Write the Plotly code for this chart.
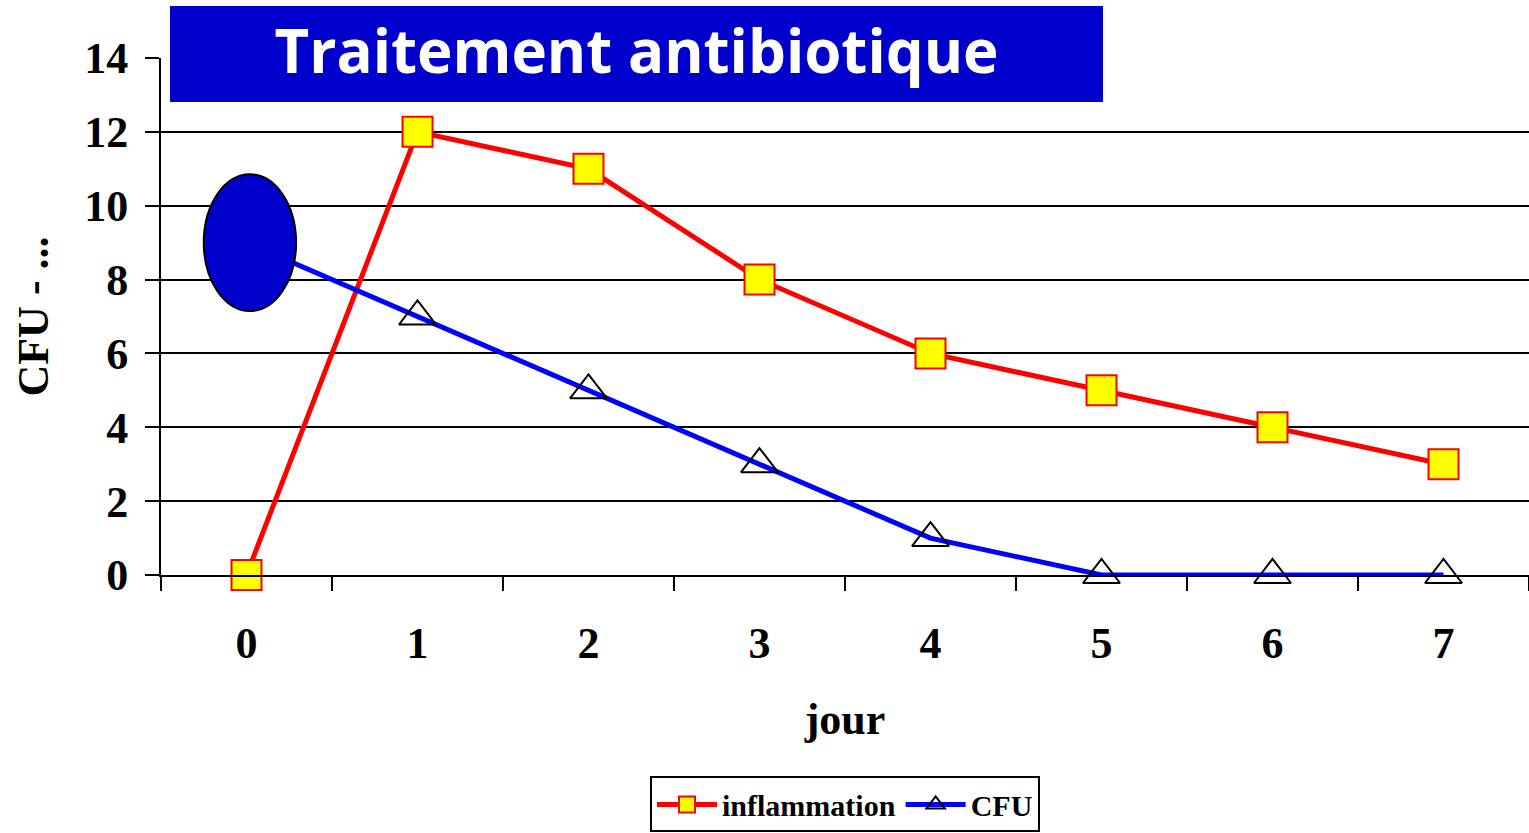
import plotly.graph_objects as go

# data
jours         = [0, 1, 2, 3, 4, 5, 6, 7]
inflammation  = [0, 12, 11, 8, 6, 5, 4, 3]
cfu           = [9, 7, 5, 3, 1, 0, 0, 0]
y_ticks       = [0, 2, 4, 6, 8, 10, 12, 14]
titre         = "Traitement antibiotique"

serif = dict(family = "Liberation Serif", color = "black", weight = "bold")

fig = go.Figure()

fig.add_trace(go.Scatter(x          = [str(j) for j in jours],
                         y          = inflammation,
                         name       = "inflammation",
                         mode       = "lines+markers",
                         cliponaxis = False,
                         line       = dict(color = "#ff0000", width = 5),
                         marker     = dict(symbol = "square",
                                           size   = 30,
                                           color  = "#ffff00",
                                           line   = dict(color = "#ff0000", width = 2))))

fig.add_trace(go.Scatter(x          = [str(j) for j in jours],
                         y          = cfu,
                         name       = "CFU",
                         mode       = "lines+markers",
                         cliponaxis = False,
                         line       = dict(color = "#0000ff", width = 5),
                         marker     = dict(symbol = "triangle-up-open",
                                           size   = 32,
                                           color  = "black",
                                           line   = dict(color = "black", width = 2))))

# blue ellipse hiding the first CFU point
fig.add_shape(type      = "circle",
              xref      = "x", yref = "y",
              x0        = -0.25, x1 = 0.29,
              y0        = cfu[0] - 1.85, y1 = cfu[0] + 1.85,
              fillcolor = "#0000cc",
              line      = dict(color = "black", width = 2),
              layer     = "above")

# title box, drawn under the gridlines
fig.add_shape(type      = "rect",
              xref      = "paper", yref = "paper",
              x0        = (170 - 161) / 1368, x1 = (1103 - 161) / 1368,
              y0        = (575 - 102) / 517, y1 = (575 - 6) / 517,
              fillcolor = "#0000cc",
              line      = dict(width = 0),
              layer     = "below",
              label     = dict(text = titre,
                               font = dict(family = "Comic Sans MS, Open Sans",
                                           size   = 60,
                                           color  = "white",
                                           weight = "bold")))

fig.update_xaxes(type              = "category",
                 range             = [-0.5, 7.5],
                 tickson           = "boundaries",
                 ticks             = "outside",
                 ticklen           = 14,
                 tickwidth         = 2,
                 tickcolor         = "black",
                 ticklabelstandoff = 28,
                 showline          = True,
                 linecolor         = "black",
                 linewidth         = 2,
                 showgrid          = False,
                 tickfont          = dict(serif, size = 44),
                 title             = dict(text     = "jour",
                                          font     = dict(serif, size = 44),
                                          standoff = 36))

fig.update_yaxes(range             = [0, 14],
                 tickvals          = y_ticks,
                 ticks             = "outside",
                 ticklen           = 14,
                 tickwidth         = 2,
                 tickcolor         = "black",
                 ticklabelstandoff = 8,
                 showline          = True,
                 linecolor         = "black",
                 linewidth         = 2,
                 showgrid          = True,
                 gridcolor         = "black",
                 gridwidth         = 2,
                 zeroline          = False,
                 tickfont          = dict(serif, size = 44),
                 title             = dict(text     = "CFU - ...",
                                          font     = dict(serif, size = 44),
                                          standoff = 22))

# legend kept inside the page so it does not push the bottom margin
fig.update_layout(width         = 1529,
                  height        = 833,
                  margin        = dict(l = 161, r = 0, t = 58, b = 258),
                  paper_bgcolor = "white",
                  plot_bgcolor  = "rgba(0,0,0,0)",
                  legend        = dict(orientation = "h",
                                       x           = 0.5,
                                       xanchor     = "center",
                                       y           = -0.498,
                                       yanchor     = "bottom",
                                       itemwidth   = 60,
                                       bordercolor = "black",
                                       borderwidth = 2,
                                       font        = dict(serif, size = 30)))

# drop the default page margin so the figure sits at the top-left corner
fig.write_html("out.html",
               config      = dict(displayModeBar = False),
               post_script = "document.body.style.margin = '0';")
